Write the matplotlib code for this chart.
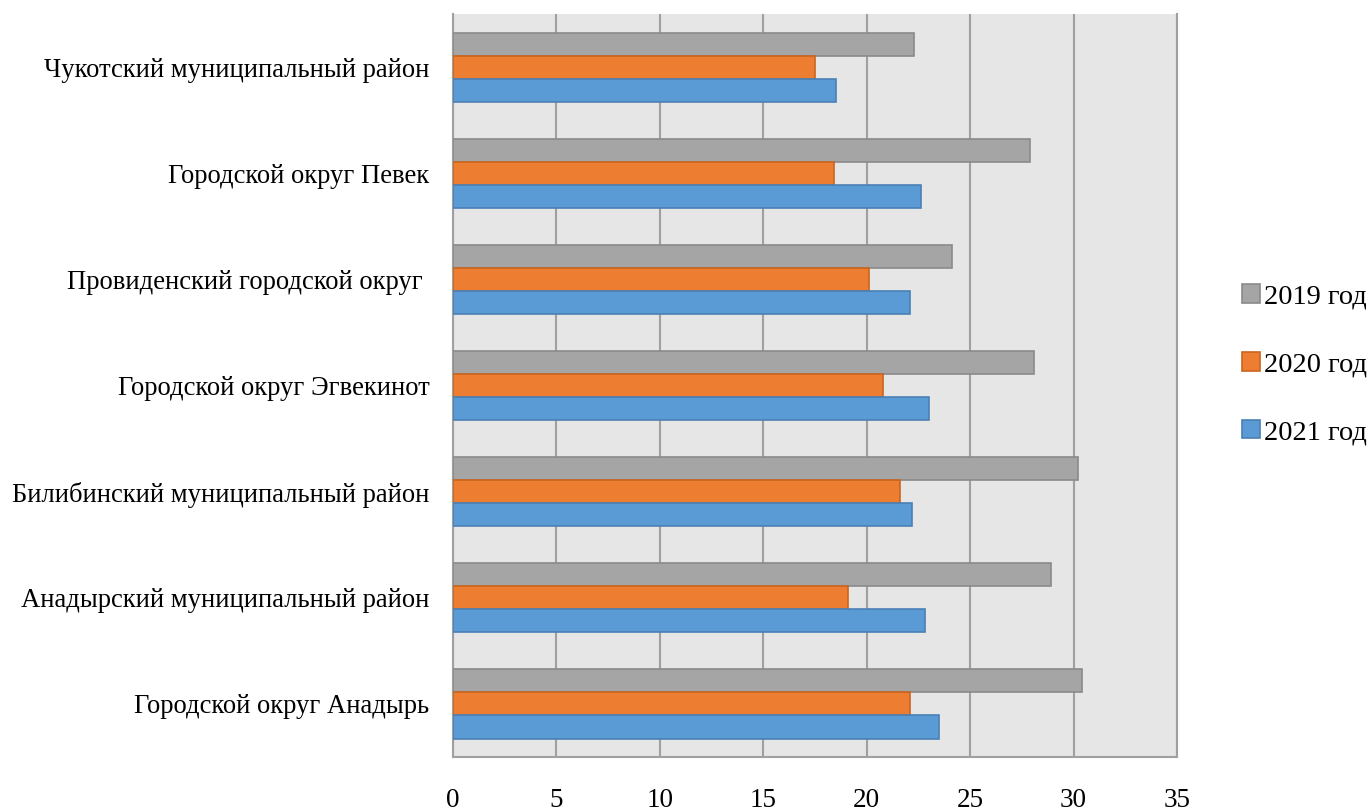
import matplotlib.pyplot as plt
import numpy as np

plt.rcParams['font.family'] = ['Liberation Serif', 'DejaVu Serif']

districts = ['Чукотский муниципальный район', 'Городской округ Певек',
             'Провиденский городской округ ', 'Городской округ Эгвекинот',
             'Билибинский муниципальный район', 'Анадырский муниципальный район',
             'Городской округ Анадырь']
v2019 = [22.3, 27.9, 24.1, 28.1, 30.2, 28.9, 30.4]
v2020 = [17.5, 18.4, 20.1, 20.8, 21.6, 19.1, 22.1]
v2021 = [18.5, 22.6, 22.1, 23.0, 22.2, 22.8, 23.5]
years = ['2019 год', '2020 год', '2021 год']

fig = plt.figure(figsize=(13.72, 8.10), dpi=100)
ax = fig.add_axes([0.3302, 0.0654, 0.5277, 0.9173])
ax.set_facecolor('#e7e6e6')

y = np.arange(len(districts))
h = 0.217
ax.barh(y - h, v2019, h, color='#a5a5a5', edgecolor='#8a8a8a', lw=1.2, label=years[0], zorder=3)
ax.barh(y, v2020, h, color='#ed7d31', edgecolor='#c9651f', lw=1.2, label=years[1], zorder=3)
ax.barh(y + h, v2021, h, color='#5b9bd5', edgecolor='#4a80b5', lw=1.2, label=years[2], zorder=3)

ax.set_xlim(0, 35)
ax.set_ylim(len(districts) - 0.5, -0.5)
ax.set_xticks(range(0, 36, 5))
ax.set_yticks(y)
ax.set_yticklabels(districts)
ax.grid(axis='x', color='#a0a0a0', lw=1.5, zorder=1)
ax.tick_params(axis='x', length=0, pad=22, labelsize=19.5)
ax.tick_params(axis='y', length=0, pad=17, labelsize=19.2)
for s in ['left', 'bottom', 'right']:
    ax.spines[s].set_color('#a0a0a0')
    ax.spines[s].set_linewidth(1.5)
ax.spines['top'].set_visible(False)

ax.legend(loc='center left', bbox_to_anchor=(1.055, 0.528), frameon=False,
          fontsize=20.5, handlelength=0.62, handleheight=0.62, handletextpad=0.15,
          labelspacing=1.5)

fig.savefig('out.png')
